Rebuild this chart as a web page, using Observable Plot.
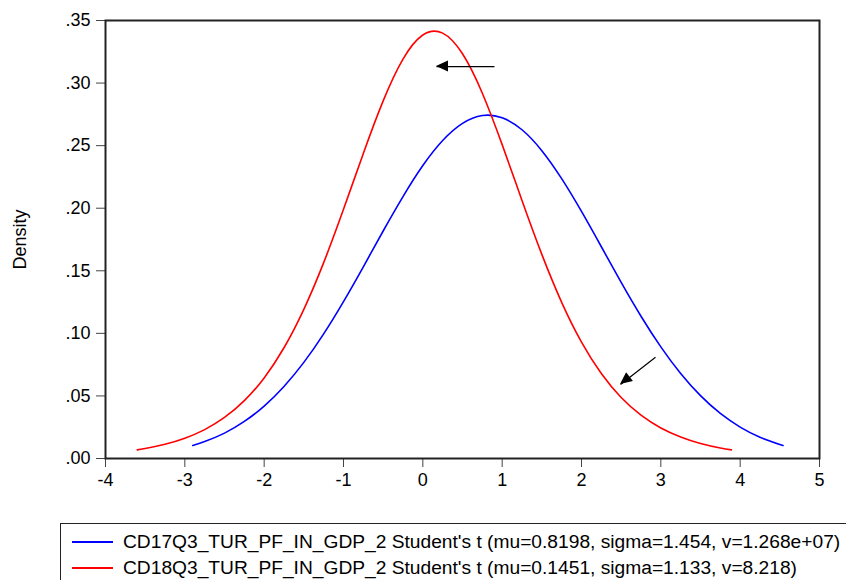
<!DOCTYPE html>
<html>
<head>
<meta charset="utf-8">
<script src="https://cdn.jsdelivr.net/npm/d3@7"></script>
<script src="https://cdn.jsdelivr.net/npm/@observablehq/plot@0.6"></script>
<style>
  html, body { margin: 0; padding: 0; background: #fff; width: 846px; height: 580px; overflow: hidden; position: relative; }
  #chart { position: absolute; left: 0; top: 0; }
  #legend { position: absolute; left: 60px; top: 523px; width: 820px; height: 60px; border: 1.5px solid #222; box-sizing: border-box;
            font-family: "Liberation Sans", Arial, sans-serif; font-size: 19.2px; color: #000; }
  .row { position: absolute; left: 0; height: 26px; white-space: nowrap; }
  .swatch { position: absolute; left: 11px; width: 41px; height: 0; border-top: 2px solid; }
  .lbl { position: absolute; left: 62px; top: 0; line-height: 26px; }
</style>
</head>
<body>
<div id="chart"></div>
<div id="legend"></div>
<script>
// ---- data ----
const seriesNames = [
  "CD17Q3_TUR_PF_IN_GDP_2 Student's t (mu=0.8198, sigma=1.454, v=1.268e+07)",
  "CD18Q3_TUR_PF_IN_GDP_2 Student's t (mu=0.1451, sigma=1.133, v=8.218)"
];
const seriesColors = ["#0000ff", "#ff0000"];

const blueX = [-2.9, -2.75, -2.5, -2.25, -2.0, -1.75, -1.5, -1.25, -1.0, -0.75, -0.5, -0.25, 0, 0.25, 0.5, 0.75, 1.0, 1.25, 1.5, 1.75, 2.0, 2.25, 2.5, 2.75, 3.0, 3.25, 3.5, 3.75, 4.0, 4.25, 4.54];
const blueY = [0.0104, 0.0135, 0.0203, 0.0296, 0.0419, 0.0576, 0.0768, 0.0996, 0.1254, 0.1532, 0.1818, 0.2093, 0.2341, 0.2541, 0.2678, 0.2741, 0.2723, 0.2627, 0.2460, 0.2236, 0.1974, 0.1692, 0.1407, 0.1137, 0.0892, 0.0679, 0.0502, 0.0360, 0.0251, 0.0170, 0.0104];

const redX = [-3.6, -3.5, -3.25, -3.0, -2.75, -2.5, -2.25, -2.0, -1.75, -1.5, -1.25, -1.0, -0.75, -0.5, -0.25, 0, 0.25, 0.5, 0.75, 1.0, 1.25, 1.5, 1.75, 2.0, 2.25, 2.5, 2.75, 3.0, 3.25, 3.5, 3.75, 3.89];
const redY = [0.0069, 0.0080, 0.0114, 0.0162, 0.0231, 0.0328, 0.0462, 0.0644, 0.0885, 0.1192, 0.1565, 0.1991, 0.2438, 0.2858, 0.3192, 0.3384, 0.3399, 0.3234, 0.2919, 0.2508, 0.2062, 0.1631, 0.1248, 0.0930, 0.0679, 0.0487, 0.0346, 0.0244, 0.0172, 0.0120, 0.0084, 0.0069];

// annotation arrows (start -> tip), in data units
const arrowX1 = [0.903, 2.933];
const arrowY1 = [0.3132, 0.0809];
const arrowX2 = [0.172, 2.492];
const arrowY2 = [0.3132, 0.0591];

const xTicks = [-4, -3, -2, -1, 0, 1, 2, 3, 4, 5];
const yTicks = [0, 0.05, 0.10, 0.15, 0.20, 0.25, 0.30, 0.35];

// ---- build tables ----
const blue = blueX.map((x, i) => ({x, y: blueY[i]}));
const red = redX.map((x, i) => ({x, y: redY[i]}));
const arrows = arrowX1.map((x1, i) => ({x1, y1: arrowY1[i], x2: arrowX2[i], y2: arrowY2[i]}));

const fmtY = d => d3.format(".2f")(d).replace(/^0/, "");
const fmtX = d => String(d);

function arrowHeads(index, scales) {
  const g = d3.create("svg:g");
  for (const a of arrows) {
    const sx = scales.x(a.x1), sy = scales.y(a.y1);
    const tx = scales.x(a.x2), ty = scales.y(a.y2);
    const dx = tx - sx, dy = ty - sy, L = Math.hypot(dx, dy);
    const ux = dx / L, uy = dy / L, nx = -uy, ny = ux;
    const bx = tx - 12 * ux, by = ty - 12 * uy;
    g.append("path")
      .attr("d", `M${tx},${ty}L${bx + 5.5 * nx},${by + 5.5 * ny}L${bx - 5.5 * nx},${by - 5.5 * ny}Z`)
      .attr("fill", "#000");
  }
  return g.node();
}

const chart = Plot.plot({
  width: 846,
  height: 505,
  marginLeft: 105,
  marginRight: 27,
  marginTop: 20,
  marginBottom: 47,
  style: {fontFamily: "'Liberation Sans', Arial, sans-serif", fontSize: "18px", color: "#000", background: "#fff"},
  x: {domain: [-4, 5]},
  y: {domain: [0, 0.35]},
  marks: [
    Plot.axisX({ticks: xTicks, tickSize: 9, tickPadding: 6, tickFormat: fmtX, label: null, stroke: "#444"}),
    Plot.axisY({ticks: yTicks, tickSize: 9, tickPadding: 6, tickFormat: fmtY, label: "Density",
                labelAnchor: "center", labelOffset: 92, labelArrow: "none", stroke: "#444"}),
    Plot.line(blue, {x: "x", y: "y", stroke: seriesColors[0], strokeWidth: 1.6, curve: "natural"}),
    Plot.line(red, {x: "x", y: "y", stroke: seriesColors[1], strokeWidth: 1.6, curve: "natural"}),
    Plot.link(arrows, {x1: "x1", y1: "y1", x2: "x2", y2: "y2", stroke: "#000", strokeWidth: 1.2}),
    arrowHeads,
    Plot.frame({stroke: "#222", strokeWidth: 2})
  ]
});
document.getElementById("chart").appendChild(chart);

// legend
const legend = d3.select("#legend");
const rowTops = [5, 31];
seriesNames.forEach((name, i) => {
  const row = legend.append("div").attr("class", "row").style("top", rowTops[i] + "px");
  row.append("div").attr("class", "swatch").style("top", "12px").style("border-top-color", seriesColors[i]);
  row.append("div").attr("class", "lbl").text(name);
});
</script>
</body>
</html>
